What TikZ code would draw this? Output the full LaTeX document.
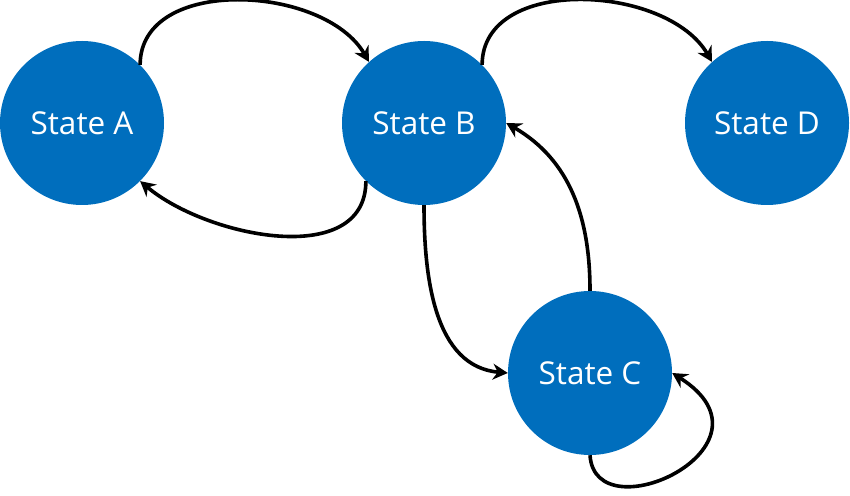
\documentclass[tikz,border=0pt]{standalone}
\usepackage{fontspec}
\setmainfont{Open Sans}
\usetikzlibrary{arrows.meta}
\begin{document}
\begin{tikzpicture}[x=1pt,y=1pt,
  state/.style={circle,fill=stblue,draw=none,minimum size=164pt,inner sep=0pt,text=white,font=\fontsize{31.5}{36}\selectfont},
  conn/.style={line width=3.6pt,-{Stealth[length=15pt,width=16pt,inset=5pt]}}]
\definecolor{stblue}{HTML}{006EBD}
\useasboundingbox (0,0) rectangle (850,495);
\node[state] (A) at (82,372) {State A};
\node[state] (B) at (424,372) {State B};
\node[state] (D) at (767,372) {State D};
\node[state] (C) at (590,122) {State C};
\draw[conn] (A.45) to[out=90,in=120] (B.132);
\draw[conn] (B.225) to[out=-90,in=-40] (A.-45);
\draw[conn] (B.45) to[out=90,in=120] (D.132);
\draw[conn] (B.-90) to[out=-90,in=175] (C.180);
\draw[conn] (C.90) to[out=90,in=-30] (B.0);
\draw[conn] (C.-90) .. controls +(5,-80) and +(115,-73) .. (C.0);
\end{tikzpicture}
\end{document}
